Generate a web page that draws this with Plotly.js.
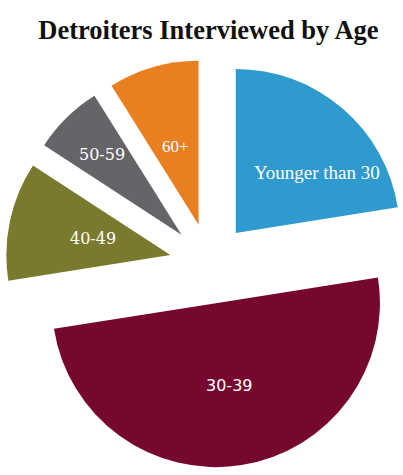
<!DOCTYPE html>
<html>
<head>
<meta charset="utf-8">
<script src="https://cdn.plot.ly/plotly-3.0.1.min.js"></script>
<style>
html, body { margin:0; padding:0; overflow:hidden; background:#fff; }
#chart { width:414px; height:475px; }
</style>
</head>
<body>
<div id="chart"></div>
<script>
var categories = ["Younger than 30", "30-39", "40-49", "50-59", "60+"];
var shares = [22.5, 50.0, 11.7, 6.9, 8.9];
var sliceColors = ["#2E9ACE", "#76072E", "#7A7A2E", "#646469", "#E88022"];
var labelFonts = ["Liberation Serif", "DejaVu Sans", "DejaVu Serif", "DejaVu Serif", "Liberation Serif"];
var labelSizes = [19, 16, 16, 16, 17];
var labelDepth = [0.62, 0.51, 0.48, 0.69, 0.50];   // label distance from slice tip, fraction of radius
var labelTurn = [13, 0, 0, 0, 0];                   // degrees clockwise from the slice bisector
var pulls = [0.245, 0.245, 0.245, 0.245, 0.245];

var W = 414, H = 475;

var trace = {
  type: "pie",
  labels: categories,
  values: shares,
  sort: false,
  direction: "clockwise",
  rotation: 0,
  pull: pulls,
  marker: { colors: sliceColors, line: { width: 0 } },
  textinfo: "none",
  hoverinfo: "none",
  domain: { x: [0.0128, 1], y: [0.0154, 0.8752] }
};

var layout = {
  width: W,
  height: H,
  margin: { l: 0, r: 0, t: 0, b: 0 },
  paper_bgcolor: "#ffffff",
  showlegend: false,
  title: {
    text: "<b>Detroiters Interviewed by Age</b>",
    font: { family: "Liberation Serif", size: 26.5, color: "#111111" },
    xref: "container", yref: "container",
    x: 0.5036, xanchor: "center",
    y: 0.938, yanchor: "middle"
  }
};

Plotly.newPlot("chart", [trace], layout, { displayModeBar: false, staticPlot: true }).then(function (gd) {
  var cd = gd.calcdata[0];
  var c0 = cd[0];
  var cx = c0.cx, cy = c0.cy, r = c0.r;
  var anns = [];
  for (var i = 0; i < cd.length; i++) {
    var pt = cd[i];
    var mid = pt.midangle;
    var tipX = cx + Math.sin(mid) * pulls[i] * r;
    var tipY = cy - Math.cos(mid) * pulls[i] * r;
    var ang = mid + labelTurn[i] * Math.PI / 180;
    var px = tipX + Math.sin(ang) * labelDepth[i] * r;
    var py = tipY - Math.cos(ang) * labelDepth[i] * r;
    anns.push({
      xref: "paper", yref: "paper",
      x: px / W, y: 1 - py / H,
      xanchor: "center", yanchor: "middle",
      showarrow: false,
      text: categories[i],
      font: { family: labelFonts[i], size: labelSizes[i], color: "#ffffff" }
    });
  }
  return Plotly.relayout(gd, { annotations: anns });
});
</script>
</body>
</html>
